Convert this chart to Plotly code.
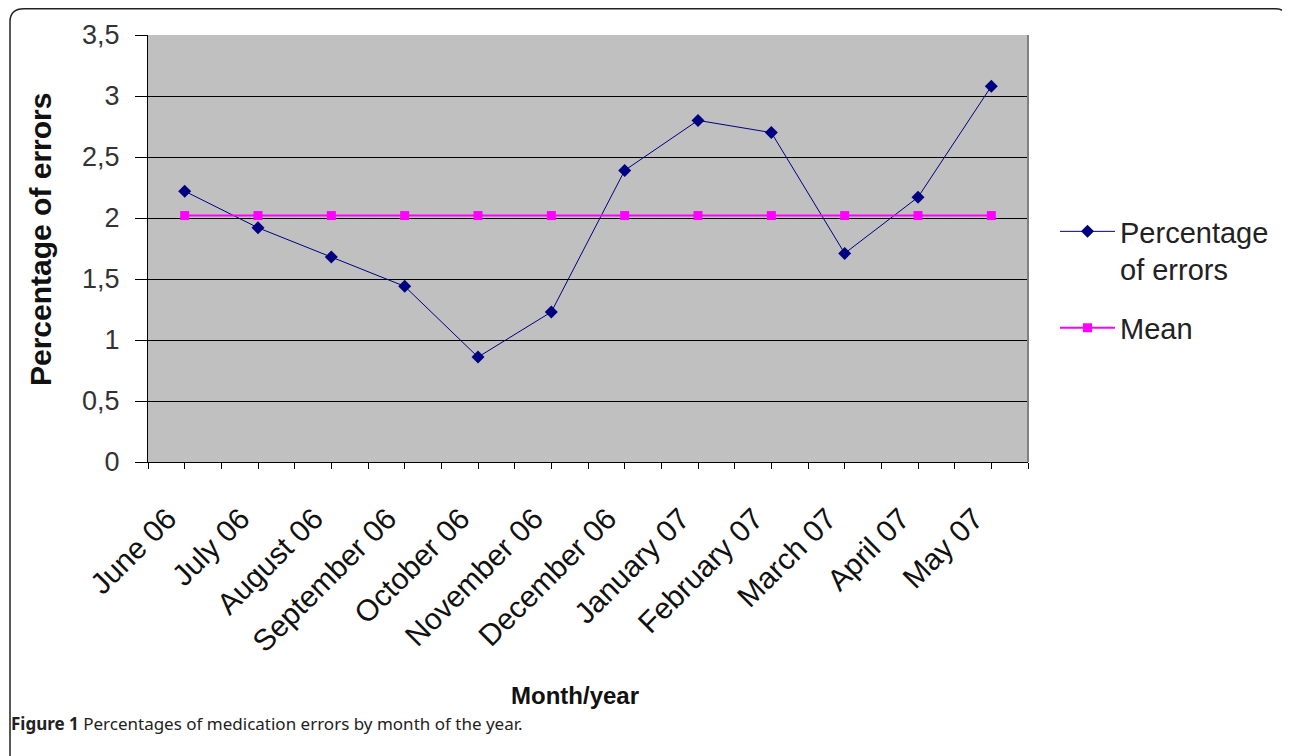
import plotly.graph_objects as go

months = ["June 06", "July 06", "August 06", "September 06", "October 06", "November 06",
          "December 06", "January 07", "February 07", "March 07", "April 07", "May 07"]
pct_errors = [2.22, 1.92, 1.68, 1.44, 0.86, 1.23, 2.39, 2.80, 2.70, 1.71, 2.17, 3.08]
mean_vals = [2.02] * 12
y_ticks = [0, 0.5, 1, 1.5, 2, 2.5, 3, 3.5]

# page body has an 8px margin; work in screen coordinates and offset
OFF = 8
W, H = 1290 - OFF, 756 - OFF
L, R, T, B = 148 - OFF, 1028 - OFF, 35 - OFF, 462 - OFF
PW, PH = R - L, B - T

def px(x):  # screen x -> paper
    return (x - OFF - L) / PW

def py(y):  # screen y -> paper
    return (B - (y - OFF)) / PH

xs = list(range(len(months)))

fig = go.Figure()
fig.add_trace(go.Scatter(
    x=xs, y=pct_errors, mode="lines+markers", name="Percentage<br>of errors",
    legendgroup="a",
    line=dict(color="#000080", width=1),
    marker=dict(symbol="diamond", size=10, color="#000080"),
))
fig.add_trace(go.Scatter(
    x=xs, y=mean_vals, mode="lines+markers", name="Mean",
    legendgroup="b",
    line=dict(color="#FF00FF", width=2),
    marker=dict(symbol="square", size=9, color="#FF00FF"),
))

fig.update_layout(
    width=W, height=H,
    margin=dict(l=L, r=W - R, t=T, b=H - B),
    paper_bgcolor="white", plot_bgcolor="#C0C0C0",
    separators=",.",
    font=dict(family="Liberation Sans, Arial", color="#111"),
    showlegend=True,
    legend=dict(x=px(1055), y=py(206), xanchor="left", yanchor="top",
                font=dict(size=29, color="#222"), valign="top",
                tracegroupgap=18, itemwidth=55, bgcolor="rgba(0,0,0,0)"),
)
fig.update_xaxes(
    range=[-0.5, 11.5], tickvals=xs, ticktext=months, tickangle=-45,
    tickfont=dict(size=30, color="#111"),
    ticklabelstandoff=20, ticklabelshift=-17,
    showgrid=False, zeroline=False, showline=True, linecolor="#000", linewidth=1,
    ticks="outside", ticklen=6, tickcolor="#000",
    minor=dict(tick0=-0.5, dtick=1, ticks="outside", ticklen=6, tickcolor="#000", showgrid=False),
)
fig.update_yaxes(
    range=[0, 3.5], tickvals=y_ticks, tickformat=".1~f",
    tickfont=dict(size=27, color="#333"), ticklabelstandoff=10,
    showgrid=True, gridcolor="#000", gridwidth=1, zeroline=False,
    showline=True, linecolor="#000", linewidth=1,
    ticks="outside", ticklen=12, tickcolor="#000",
)

# right gray border of plot area
fig.add_shape(type="line", xref="paper", yref="paper", x0=1, x1=1, y0=0, y1=1,
              line=dict(color="#808080", width=2))

# outer rounded frame
def P(x, y):
    return f"{px(x):.5f},{py(y):.5f}"
path = (f"M {P(10, 770)} L {P(10, 22)} Q {P(10, 8.8)} {P(24, 8.8)} "
        f"L {P(1275, 8.8)} Q {P(1288.5, 8.8)} {P(1288.5, 22)} L {P(1288.5, 770)}")
fig.add_shape(type="path", xref="paper", yref="paper", path=path,
              line=dict(color="#222", width=1.5))

fig.add_annotation(text="<b>Percentage of errors</b>", xref="paper", yref="paper",
                   x=px(40), y=py(240), xanchor="center", yanchor="middle",
                   textangle=-90, showarrow=False,
                   font=dict(size=30, color="#111"))
fig.add_annotation(text="<b>Month/year</b>", xref="paper", yref="paper",
                   x=px(575), y=py(695), xanchor="center", yanchor="middle",
                   showarrow=False, font=dict(size=24, color="#111"))
fig.add_annotation(text="<b>Figure 1</b> Percentages of medication errors by month of the year.",
                   xref="paper", yref="paper", x=px(9), y=py(723), xanchor="left",
                   yanchor="middle", showarrow=False,
                   font=dict(family="Noto Sans", size=17, color="#222"))

fig.write_html("out.html")
